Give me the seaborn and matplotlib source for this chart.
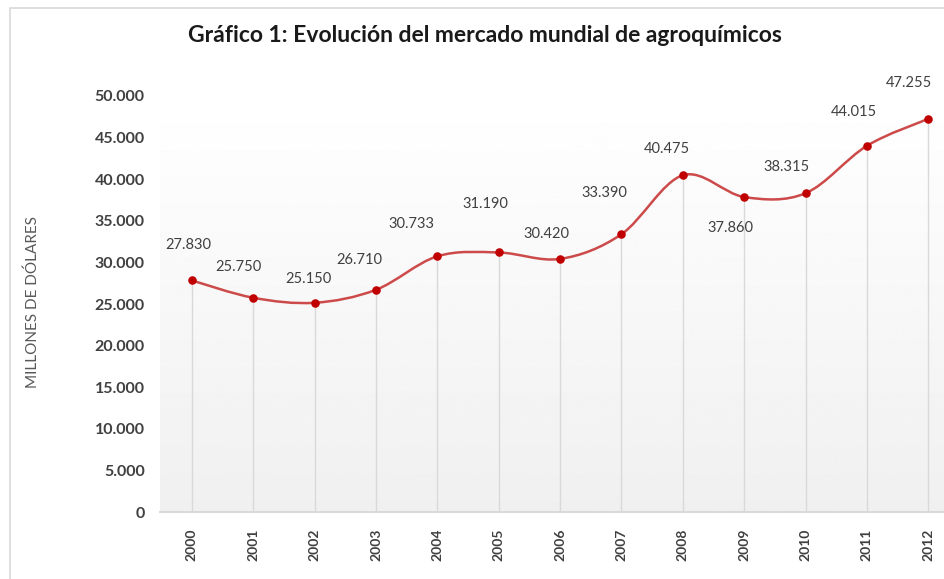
import matplotlib
matplotlib.use("Agg")
import matplotlib.pyplot as plt
from matplotlib.path import Path
from matplotlib.patches import PathPatch, Rectangle
import numpy as np
import seaborn as sns

# --- data ---
years = [2000, 2001, 2002, 2003, 2004, 2005, 2006, 2007, 2008, 2009, 2010, 2011, 2012]
market = [27830, 25750, 25150, 26710, 30733, 31190, 30420, 33390, 40475, 37860, 38315, 44015, 47255]
y_ticks = [0, 5000, 10000, 15000, 20000, 25000, 30000, 35000, 40000, 45000, 50000]

# label offsets in pixels (style only)
label_offsets = [(-4, 35), (-15, 31), (-6, 24), (-17, 30), (-26, 32), (-13, 48), (-14, 25),
                 (-17, 41), (-16, 26), (-14, -31), (-19, 26), (-13, 34), (-19, 36)]


def fmt(v):
    return f"{int(v):,}".replace(",", ".")


sns.set_theme(style="white")
plt.rcParams["font.family"] = ["Lato", "DejaVu Sans"]

fig = plt.figure(figsize=(9.45, 5.79), dpi=100)
ax = fig.add_axes([160 / 945, 67 / 579, 799 / 945, 416 / 579])

# thin outer frame of the original chart box
fig.patches.append(Rectangle((10 / 945, -0.1), 1.2, (579 - 8) / 579 + 0.1,
                             transform=fig.transFigure, fill=False,
                             edgecolor="#d9d9d9", linewidth=1.2))

ax.set_xlim(years[0] - 0.52, years[-1] + 0.5)
ax.set_ylim(0, 50000)

# gradient plot area
grad = np.linspace(1.0, 0.94, 256).reshape(-1, 1)
ax.imshow(grad, extent=[years[0] - 0.52, years[-1] + 0.5, 0, 50000], aspect="auto",
          cmap="gray", vmin=0, vmax=1, zorder=0, origin="upper")

# drop lines
ax.vlines(years, 0, market, color="#d9d9d9", linewidth=1.0, zorder=1)

# smoothed line (Excel-style Bezier through the points)
x = np.array(years, dtype=float)
y = np.array(market, dtype=float)
verts = [(x[0], y[0])]
codes = [Path.MOVETO]
n = len(x)
for i in range(n - 1):
    p0 = max(i - 1, 0)
    p3 = min(i + 2, n - 1)
    c1 = (x[i] + (x[i + 1] - x[p0]) / 6, y[i] + (y[i + 1] - y[p0]) / 6)
    c2 = (x[i + 1] - (x[p3] - x[i]) / 6, y[i + 1] - (y[p3] - y[i]) / 6)
    verts += [c1, c2, (x[i + 1], y[i + 1])]
    codes += [Path.CURVE4] * 3
ax.add_patch(PathPatch(Path(verts, codes), facecolor="none", edgecolor="#cd4a4a",
                       linewidth=1.8, zorder=2))

sns.scatterplot(x=years, y=market, ax=ax, color="#c00000", s=38, edgecolor="#c00000",
                linewidth=0, zorder=3)

for xi, yi, (dx, dy) in zip(years, market, label_offsets):
    ax.annotate(fmt(yi), (xi, yi), xytext=(dx, dy), textcoords="offset pixels",
                ha="center", va="center", fontsize=10.5, color="#404040",
                annotation_clip=False)

ax.set_xticks(years)
ax.set_xticklabels([str(v) for v in years], rotation=90, fontsize=10,
                   color="#404040", fontweight="bold")
ax.set_yticks(y_ticks)
ax.set_yticklabels([fmt(v) for v in y_ticks], fontsize=11.5, color="#404040",
                   fontweight="bold")
ax.tick_params(axis="x", length=0, pad=12)
ax.tick_params(axis="y", length=0, pad=11)

for s in ["top", "right", "left"]:
    ax.spines[s].set_visible(False)
ax.spines["bottom"].set_color("#d9d9d9")
ax.spines["bottom"].set_linewidth(1.5)

fig.text(485 / 945, 1 - 35 / 579, "Gráfico 1: Evolución del mercado mundial de agroquímicos",
         ha="center", va="center", fontsize=16.5, fontweight="bold", color="#1a1a1a")
fig.text(33 / 945, 1 - 302 / 579, "MILLONES DE DÓLARES", rotation=90, ha="center",
         va="center", fontsize=11, color="#595959")

fig.savefig("out.png", dpi=100)
